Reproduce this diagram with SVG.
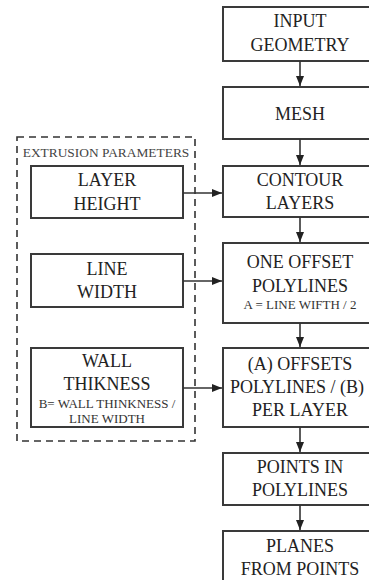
<svg xmlns="http://www.w3.org/2000/svg" width="369" height="580" viewBox="0 0 369 580">
<style>
.box{fill:#fff;stroke:#3a3a3a;stroke-width:2}
.t{font-family:'Liberation Serif','DejaVu Serif',serif;font-size:18px;fill:#222;text-anchor:middle}
.s{font-family:'Liberation Serif','DejaVu Serif',serif;font-size:13px;fill:#333;text-anchor:middle}
.c{stroke:#333;stroke-width:1.6;fill:none}
.dash{fill:none;stroke:#333;stroke-width:1.6;stroke-dasharray:7 5}
</style>
<defs>
<marker id="ah" viewBox="0 0 10 8" refX="10" refY="4" markerWidth="10" markerHeight="8" markerUnits="userSpaceOnUse" orient="auto">
<path d="M0,0 L10,4 L0,8 Z" fill="#222"/>
</marker>
</defs>
<rect fill="#fff" x="0" y="0" width="369" height="580"/>
<g id="group-extrusion">
<rect class="dash" x="17" y="137" width="178" height="304"/>
<text class="s" x="106" y="157" style="font-size:13.4px;fill:#444">EXTRUSION PARAMETERS</text>
</g>
<g id="layer-height">
<rect class="box" x="31" y="166" width="152" height="52"/>
<text class="t" x="107" y="186">LAYER</text>
<text class="t" x="107" y="210">HEIGHT</text>
</g>
<g id="line-width">
<rect class="box" x="31" y="254" width="152" height="53"/>
<text class="t" x="107" y="275">LINE</text>
<text class="t" x="107" y="298">WIDTH</text>
</g>
<g id="wall-thickness">
<rect class="box" x="31" y="348" width="152" height="79"/>
<text class="t" x="107" y="367">WALL</text>
<text class="t" x="107" y="390">THIKNESS</text>
<text class="s" x="107" y="408">B= WALL THINKNESS /</text>
<text class="s" x="107" y="423">LINE WIDTH</text>
</g>
<g id="input-geometry">
<rect class="box" x="223" y="7" width="155" height="54"/>
<text class="t" x="300" y="27">INPUT</text>
<text class="t" x="300" y="51">GEOMETRY</text>
</g>
<g id="mesh">
<rect class="box" x="223" y="87" width="155" height="52"/>
<text class="t" x="300" y="120">MESH</text>
</g>
<g id="contour-layers">
<rect class="box" x="223" y="166" width="155" height="51"/>
<text class="t" x="300" y="186">CONTOUR</text>
<text class="t" x="300" y="209">LAYERS</text>
</g>
<g id="one-offset">
<rect class="box" x="223" y="243" width="155" height="80"/>
<text class="t" x="300" y="268">ONE OFFSET</text>
<text class="t" x="300" y="292">POLYLINES</text>
<text class="s" x="300" y="309">A = LINE WIFTH / 2</text>
</g>
<g id="offsets-per-layer">
<rect class="box" x="223" y="348" width="155" height="79"/>
<text class="t" x="300" y="370">(A) OFFSETS</text>
<text class="t" x="297" y="393">POLYLINES / (B)</text>
<text class="t" x="300" y="416">PER LAYER</text>
</g>
<g id="points-in-polylines">
<rect class="box" x="223" y="453" width="155" height="52"/>
<text class="t" x="300" y="473">POINTS IN</text>
<text class="t" x="300" y="496">POLYLINES</text>
</g>
<g id="planes-from-points">
<rect class="box" x="223" y="531" width="155" height="60"/>
<text class="t" x="300" y="552">PLANES</text>
<text class="t" x="300" y="575">FROM POINTS</text>
</g>
<g id="connectors">
<line class="c" x1="300" y1="61" x2="300" y2="86" marker-end="url(#ah)"/>
<line class="c" x1="300" y1="139" x2="300" y2="165" marker-end="url(#ah)"/>
<line class="c" x1="300" y1="217" x2="300" y2="242" marker-end="url(#ah)"/>
<line class="c" x1="300" y1="323" x2="300" y2="347" marker-end="url(#ah)"/>
<line class="c" x1="300" y1="427" x2="300" y2="452" marker-end="url(#ah)"/>
<line class="c" x1="300" y1="505" x2="300" y2="530" marker-end="url(#ah)"/>
<line class="c" x1="183" y1="193" x2="222" y2="193" marker-end="url(#ah)"/>
<line class="c" x1="183" y1="281" x2="222" y2="281" marker-end="url(#ah)"/>
<line class="c" x1="183" y1="388" x2="222" y2="388" marker-end="url(#ah)"/>
</g>
</svg>
